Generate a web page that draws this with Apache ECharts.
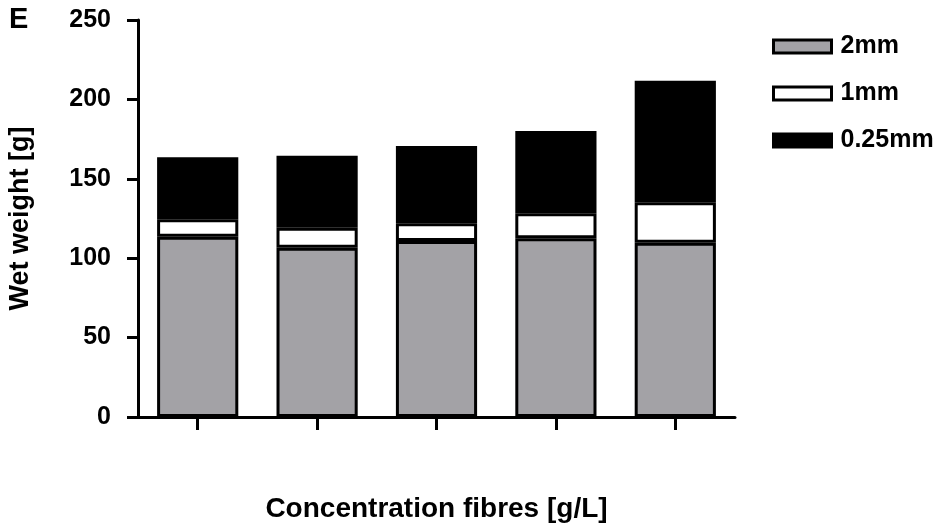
<!DOCTYPE html>
<html>
<head>
<meta charset="utf-8">
<script src="https://cdn.jsdelivr.net/npm/echarts@6/dist/echarts.min.js"></script>
<style>
    html, body {margin: 0; padding: 0; background: #fff;}
    #chartBox {width: 947px; height: 527px;}
</style>
</head>
<body>
<div id="chartBox"></div>
<script>
// 数据
let categories = ['', '', '', '', ''];
let seriesNames = ['2mm', '1mm', '0.25mm'];
let data2mm = [113.5, 106.6, 110.8, 112.5, 109.8];
let data1mm = [11.0, 12.6, 11.2, 15.8, 25.5];
let data025mm = [39.0, 45.3, 48.7, 51.8, 76.5];
let yTicks = [0, 50, 100, 150, 200, 250];

let font = 'Liberation Sans, Arial, sans-serif';
let chartBox = echarts.init(document.getElementById('chartBox'));

let barStyle = function (color) {
    return {color: color, borderColor: '#000', borderWidth: 3};
};

let option = {
    animation: false,
    textStyle: {fontFamily: font},
    graphic: [{
        type: 'text', left: 9, top: 5,
        style: {text: 'E', font: 'bold 29px ' + font, fill: '#000'}
    }],
    legend: {
        orient: 'vertical', left: 772, top: 34, padding: 0,
        icon: 'rect', itemWidth: 58, itemHeight: 13, itemGap: 22,
        itemStyle: {borderColor: '#000', borderWidth: 3},
        textStyle: {fontSize: 25, fontWeight: 'bold', color: '#000', lineHeight: 25, padding: [0, 0, 0, 4]},
        data: seriesNames
    },
    grid: {left: 138, right: 212, top: 20, bottom: 110, outerBoundsMode: 'none', containLabel: false},
    xAxis: {
        type: 'category', data: categories,
        name: 'Concentration fibres [g/L]', nameLocation: 'middle', nameGap: 78,
        nameTextStyle: {fontSize: 28, fontWeight: 'bold', color: '#000'},
        axisLine: {show: true, lineStyle: {color: '#000', width: 3}},
        axisTick: {show: true, alignWithLabel: true, length: 13, lineStyle: {color: '#000', width: 3}},
        axisLabel: {show: false}
    },
    yAxis: {
        type: 'value', min: yTicks[0], max: yTicks[yTicks.length - 1], interval: 50,
        name: 'Wet weight [g]', nameLocation: 'middle', nameGap: 104,
        nameTextStyle: {fontSize: 27, fontWeight: 'bold', color: '#000'},
        axisLine: {show: true, lineStyle: {color: '#000', width: 3}},
        axisTick: {show: true, length: 11, lineStyle: {color: '#000', width: 3}},
        axisLabel: {margin: 27, fontSize: 25, fontWeight: 'bold', color: '#000'},
        splitLine: {show: false}
    },
    series: [
        {type: 'bar', name: seriesNames[0], stack: 'w', data: data2mm, barWidth: '68%', itemStyle: barStyle('#a3a2a6')},
        {type: 'bar', name: seriesNames[1], stack: 'w', data: data1mm, barWidth: '68%', itemStyle: barStyle('#ffffff')},
        {type: 'bar', name: seriesNames[2], stack: 'w', data: data025mm, barWidth: '68%', itemStyle: barStyle('#000000')}
    ]
};
chartBox.setOption(option, true);
</script>
</body>
</html>
